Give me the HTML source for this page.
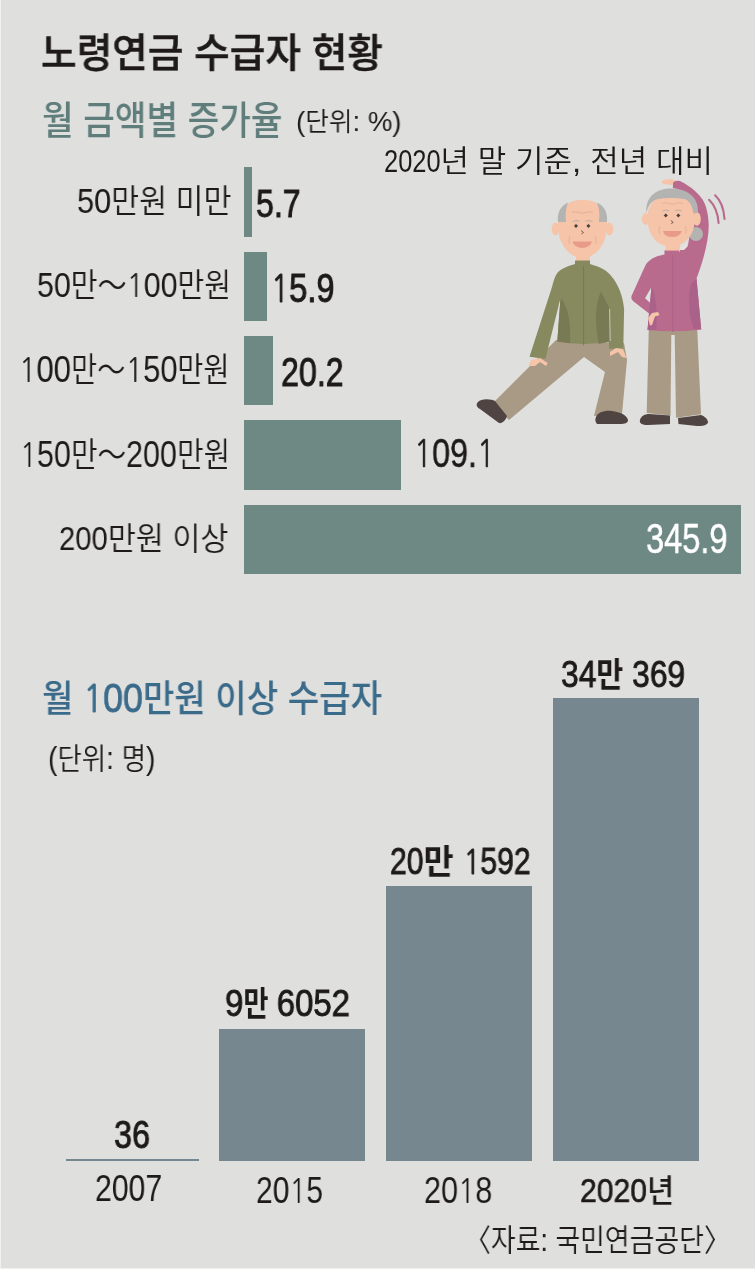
<!DOCTYPE html>
<html lang="ko"><head><meta charset="utf-8"><title>노령연금 수급자 현황</title>
<style>
html,body{margin:0;padding:0}
body{width:755px;height:1269px;background:#dfdfdd;position:relative;overflow:hidden}
.b{position:absolute}
.h{background:#6e8984}
.v{background:#77878f}
.ill{position:absolute;left:470px;top:170px}
.edgeL{position:absolute;left:0;top:0;width:1px;height:1269px;background:#f1f1ef}
.edgeB{position:absolute;left:0;top:1268px;width:755px;height:1px;background:#eeeeec}

.t{position:absolute;font-family:"Liberation Sans","Noto Sans CJK KR",sans-serif;line-height:1;white-space:nowrap;transform-origin:0 0;will-change:transform}
.k{font-family:"Noto Sans CJK KR","Liberation Sans",sans-serif;font-size:0.935em}
.q{display:inline-block;white-space:nowrap;font-family:"Liberation Sans",sans-serif}
.one{font-family:"NanumGothic","Liberation Sans",sans-serif;font-size:0.922em}
.qi{display:inline-block;transform-origin:0 0}
.r{font-weight:350}
.m{font-weight:400;-webkit-text-stroke:0.024em currentColor}
.m .k{font-weight:700;-webkit-text-stroke:0}
.n{font-weight:400;-webkit-text-stroke:0.012em currentColor}
.n .k{font-weight:500;-webkit-text-stroke:0}
.o{font-weight:400;-webkit-text-stroke:0.018em currentColor}
.o .k{font-weight:500;-webkit-text-stroke:0}
.h5{font-weight:500}
.h5s{font-weight:500;-webkit-text-stroke:0.012em currentColor}
.d{font-size:1.07em;-webkit-text-stroke:0.02em currentColor}
</style></head>
<body>
<div class="b h" style="left:244px;top:167px;width:8px;height:70px"></div>
<div class="b h" style="left:244px;top:252px;width:23px;height:69px"></div>
<div class="b h" style="left:244px;top:336px;width:29px;height:69px"></div>
<div class="b h" style="left:244px;top:420px;width:157px;height:70px"></div>
<div class="b h" style="left:244px;top:505px;width:497px;height:69px"></div>
<div class="b v" style="left:219px;top:1029px;width:146px;height:132px"></div>
<div class="b v" style="left:386px;top:886px;width:146px;height:275px"></div>
<div class="b v" style="left:553px;top:698px;width:146px;height:463px"></div>
<div class="b v" style="left:66px;top:1159px;width:133px;height:2px"></div>
<svg class="ill" width="260" height="270" viewBox="470 170 260 270">
<!-- MAN -->
<path fill="#a89a84" d="M556,340 L624,343 L627,360 L622,414 L594,416 L605,372 L584,357 L509,420 L493,403 Z"/>
<path fill="#4f4441" d="M478,402 C481,398 492,399 495,401 L507,416 C506,420 502,424 499,423 L480,409 C476,407 476,404 478,402 Z"/>
<path fill="#4f4441" d="M596,417 C598,412 605,410 612,411 C620,412 627,415 628,420 C628,423 625,424 620,424 L597,424 C595,422 595,419 596,417 Z"/>
<path fill="#878a5f" d="M575,264 C569,266 560,268 556,275 C554,279 553,283 552,287 L529.5,356.7 L545.4,359 L560.5,298 L557.3,341.6 Q583.6,346.5 609.8,341.6 L609,307.4 L609,348.8 L623.3,348.8 L624.1,309 C623,296 618,284 612,277 C607,270 600,267 590,264 Z"/>
<path fill="#787a53" d="M560.5,298 C568,306 571,322 570,343.2 L557.3,341.6 Z"/>
<path fill="#787a53" d="M601,291.6 C596,302 594,318 598.7,344 L609.8,341.6 L609,307.4 Z"/>
<path stroke="#6f724a" stroke-width="0.7" fill="none" d="M583.6,266 L583.6,345.5"/>
<path stroke="#d6d6cf" stroke-width="0.8" fill="none" d="M609.6,309 L610.2,341"/>
<path fill="#f5c4a9" d="M528.5,366 L531,360 L540,358 L547.7,363 L546,366 L540,362 L535,366 Z"/>
<path fill="#f5c4a9" d="M610,352 L616,348 L623,349 L626.5,358 L622,357 L618,352 L610,356 Z"/>
<rect fill="#f5c4a9" x="576" y="250" width="14" height="11"/>
<rect fill="#878a5f" x="575" y="260.5" width="15" height="5.5"/>
<ellipse fill="#f5c4a9" cx="555.5" cy="229" rx="3.8" ry="6.5"/>
<ellipse fill="#f5c4a9" cx="609.5" cy="229" rx="3.8" ry="6.5"/>
<path fill="#f5c4a9" d="M558,225 C558,205 570,200 582.5,200 C595,200 607,205 607,225 C607,245 595,258 582.5,258 C570,258 558,245 558,225 Z"/>
<path fill="#b3b3b1" d="M558,222 C557,212 561,206 568,202.5 C566,208 565,214 566,222 Z"/>
<path fill="#b3b3b1" d="M607,222 C608,212 604,206 597,202.5 C599,208 600,214 599,222 Z"/>
<path fill="#4a3e3b" d="M576.0,223.5 L576.55,225.45 L578.5,226.0 L576.55,226.55 L576.0,228.5 L575.45,226.55 L573.5,226.0 L575.45,225.45 Z"/><circle fill="#4a3e3b" cx="576.0" cy="226.0" r="1.45"/>
<path fill="#4a3e3b" d="M588.4,223.5 L588.95,225.45 L590.9,226.0 L588.95,226.55 L588.4,228.5 L587.85,226.55 L585.9,226.0 L587.85,225.45 Z"/><circle fill="#4a3e3b" cx="588.4" cy="226.0" r="1.45"/>
<path stroke="#5a4540" stroke-width="0.8" fill="none" d="M581,230.5 L583.5,232.5 L581.5,234"/>
<path stroke="#d9a68e" stroke-width="0.7" fill="none" d="M572,212.5 Q576,211 579,212.5 Q582.5,214 586,212.5 Q589.5,211 593,212.5"/>
<path stroke="#b9a9a0" stroke-width="0.9" fill="none" d="M572.5,221.5 Q576,219.8 579.5,221.2 M585.5,221.2 Q589,219.8 592.5,221.5"/>
<path stroke="#d9a68e" stroke-width="0.6" fill="none" d="M570,236 Q568,240 569.5,244 M595,236 Q597,240 595.5,244"/>
<path fill="#e89c87" d="M572.5,241.5 L592,241.5 Q590,248 582.3,248 Q574.5,248 572.5,241.5 Z"/>
<!-- WOMAN -->
<path fill="#a89a84" d="M648.8,328 L697.2,328 L701,414.2 L676,417.7 L674.7,335 L671.3,335 L670.5,415.4 L646.7,413 Z"/>
<path fill="#4f4441" d="M640,420 C641,416 645,414 649,414 L670,415.5 L670,424 L648,425 C642,425 639,423 640,420 Z"/>
<path fill="#4f4441" d="M678,418 L701,415 C704,416 708,419 708,422.5 C707,425.5 702,426 697,426 L678.5,424 Z"/>
<path fill="#f5c4a9" d="M661.3,182.8 C661.8,180 666,179 670,179.2 C674,179.4 677,180.5 677.7,183 L676,185 L670,184.8 C666,184.5 663,184.2 661.3,182.8 Z"/>
<path fill="#b96b8e" d="M664.7,254.6 C655,256 648,260 644.9,266.5 L632.3,294.3 Q630,298 633,301 L651,315 L656,308 L645,298.3 L651.5,287 L647.5,330 Q675,333 701.2,329.4 L696.5,278.4 C703,262 709,240 708.7,225 C708.5,214 706,205 702.7,199.8 C699,194 692,187 680,181 Q674.5,180 673,183 L672.9,188.1 C682,190 690,195 695,203 L688,245 L679.3,250.6 L664.7,250.6 Z"/>
<path fill="#aa628a" d="M691.2,283.7 C688,295 688,315 693.9,328.7 L701.2,329.4 L696.5,278.4 Z"/>
<path fill="#aa628a" d="M651.5,286.4 C656,295 658,315 656.1,330 L647.5,330 Z"/>
<path stroke="#a55d82" stroke-width="0.6" fill="none" d="M672.7,252 L672.7,332"/>
<path fill="#f5c4a9" d="M650,325.5 L648,318 L652,313 L658,312 L659.5,315 L655,316.5 L652,325 Z"/>
<rect fill="#f5c4a9" x="665.8" y="240" width="14.2" height="12"/>
<path fill="#e6e2e0" d="M679,250 L686,243 L688,246 L684,250 Z"/>
<rect fill="#b96b8e" x="664.7" y="250.6" width="14.6" height="4.5"/>
<ellipse fill="#f5c4a9" cx="645.5" cy="219" rx="3.6" ry="6"/>
<ellipse fill="#f5c4a9" cx="697" cy="219" rx="3.8" ry="6.7"/>
<circle fill="#b3b3b1" cx="696" cy="234" r="7"/>
<path fill="#f5c4a9" d="M647.5,218 C647.5,202 658,195 671,195 C684,195 695,202 695,218 C695,236 684,246.5 671,246.5 C658,246.5 647.5,236 647.5,218 Z"/>
<path fill="#b3b3b1" d="M646.5,213 C645,196 657,188.5 671,188.5 C686,188.5 699,196 698,213 L693.5,213 C692,205 689,200 684,199 C678,197.5 664,197.5 658,199 C652,200.5 648,205 646.5,213 Z"/>
<path fill="#4a3e3b" d="M665.8,213.0 L666.35,214.95 L668.3,215.5 L666.35,216.05 L665.8,218.0 L665.25,216.05 L663.3,215.5 L665.25,214.95 Z"/><circle fill="#4a3e3b" cx="665.8" cy="215.5" r="1.45"/>
<path fill="#4a3e3b" d="M678.3,213.0 L678.85,214.95 L680.8,215.5 L678.85,216.05 L678.3,218.0 L677.75,216.05 L675.8,215.5 L677.75,214.95 Z"/><circle fill="#4a3e3b" cx="678.3" cy="215.5" r="1.45"/>
<path stroke="#5a4540" stroke-width="0.8" fill="none" d="M670.8,220.5 L673.2,222.3 L671.2,223.8"/>
<path stroke="#d9a68e" stroke-width="0.6" fill="none" d="M662,203.5 Q666,202 669,203.5 Q672.5,205 676,203.5 Q679.5,202 683,203.5"/>
<path stroke="#b9a9a0" stroke-width="0.9" fill="none" d="M662.3,211 Q665.8,209.3 669.3,210.7 M675,210.7 Q678.5,209.3 682,211"/>
<path stroke="#d9a68e" stroke-width="0.6" fill="none" d="M660,226 Q658,230 659.5,234 M685,226 Q687,230 685.5,234"/>
<path fill="#e89c87" d="M662.8,231 L681.9,231 Q680,237 672.3,237 Q664.5,237 662.8,231 Z"/>
<path stroke="#b96b8e" stroke-width="2.1" fill="none" stroke-linecap="round" d="M709.1,199.8 Q717.5,208 718.6,223"/>
<path stroke="#b96b8e" stroke-width="2.1" fill="none" stroke-linecap="round" d="M715.1,195.3 Q723.5,203 724.5,219"/>
</svg>

<div class="t h5s" style="left:41.38px;top:33.79px;font-size:40.14px;color:#1d1a18;transform:scaleX(0.9645)">노령연금 수급자 현황</div>
<div class="t h5" style="left:42.06px;top:102.21px;font-size:38.58px;color:#5f7d7b;transform:scaleX(0.8907)">월 금액별 증가율</div>
<div class="t r" style="left:295.62px;top:107.04px;font-size:28.54px;color:#1d1a18;transform:scaleX(0.9650)">(<span class="k">단위</span>: %)</div>
<div class="t r" style="left:383.55px;top:144.19px;font-size:32.25px;color:#1d1a18;transform:scaleX(1.0275)"><span class="q q1" style="width:1.7093em"><span class="qi" style="transform:scaleX(0.7683)">2020</span></span><span class="k">년 말 기준</span>, <span class="k">전년 대비</span></div>
<div class="t r" style="left:77.06px;top:182.10px;font-size:35.72px;color:#1d1a18;transform:scaleX(0.9102)"><span class="q q1" style="width:1.0530em"><span class="qi" style="transform:scaleX(0.9466)">50</span></span><span class="k">만원 미만</span></div>
<div class="t r" style="left:36.59px;top:267.20px;font-size:35.45px;color:#1d1a18;transform:scaleX(0.8802)"><span class="q q1" style="width:1.0823em"><span class="qi" style="transform:scaleX(0.9729)">50</span></span><span class="k">만～</span><span class="q" style="width:1.6259em"><span class="qi" style="transform:scaleX(0.9729)"><span class="one">1</span>00</span></span><span class="k">만원</span></div>
<div class="t r" style="left:19.44px;top:351.31px;font-size:36.01px;color:#1d1a18;transform:scaleX(0.8399)"><span class="q q1" style="width:1.7210em"><span class="qi" style="transform:scaleX(1.0298)"><span class="one">1</span>00</span></span><span class="k">만～</span><span class="q" style="width:1.7210em"><span class="qi" style="transform:scaleX(1.0298)"><span class="one">1</span>50</span></span><span class="k">만원</span></div>
<div class="t r" style="left:19.91px;top:435.50px;font-size:36.29px;color:#1d1a18;transform:scaleX(0.8481)"><span class="q q1" style="width:1.6568em"><span class="qi" style="transform:scaleX(0.9914)"><span class="one">1</span>50</span></span><span class="k">만～</span><span class="q" style="width:1.6543em"><span class="qi" style="transform:scaleX(0.9914)">200</span></span><span class="k">만원</span></div>
<div class="t r" style="left:59.45px;top:520.57px;font-size:34.14px;color:#1d1a18;transform:scaleX(0.9565)"><span class="q q1" style="width:1.4904em"><span class="qi" style="transform:scaleX(0.8932)">200</span></span><span class="k">만원 이상</span></div>
<div class="t m" style="left:255.76px;top:184.22px;font-size:39.36px;color:#1d1a18;transform:scaleX(0.8164)"><span class="q q1" style="width:1.3904em"><span class="qi" style="transform:scaleX(1.0000)">5.7</span></span></div>
<div class="t m" style="left:270.56px;top:267.67px;font-size:40.46px;color:#1d1a18;transform:scaleX(0.8070)"><span class="q q1" style="width:1.9492em"><span class="qi" style="transform:scaleX(1.0000)"><span class="one">1</span>5.9</span></span></div>
<div class="t m" style="left:280.58px;top:352.27px;font-size:39.99px;color:#1d1a18;transform:scaleX(0.8048)"><span class="q q1" style="width:1.9466em"><span class="qi" style="transform:scaleX(1.0000)">20.2</span></span></div>
<div class="t n" style="left:413.84px;top:433.43px;font-size:40.08px;color:#1d1a18;transform:scaleX(0.8058)"><span class="q q1" style="width:2.5080em"><span class="qi" style="transform:scaleX(1.0000)"><span class="one">1</span>09.<span class="one">1</span></span></span></div>
<div class="t n" style="left:646.31px;top:516.60px;font-size:42.57px;color:#ffffff;transform:scaleX(0.7657)"><span class="q q1" style="width:2.5028em"><span class="qi" style="transform:scaleX(1.0000)">345.9</span></span></div>
<div class="t h5" style="left:41.85px;top:678.36px;font-size:37.38px;color:#3b6b8b;transform:scaleX(0.9153)">월 <span class="d"><span class="q q1" style="width:1.6343em"><span class="qi" style="transform:scaleX(0.9779)"><span class="one">1</span>00</span></span></span>만원 이상 수급자</div>
<div class="t r" style="left:47.81px;top:742.17px;font-size:31.37px;color:#1d1a18;transform:scaleX(0.9011)">(<span class="k">단위</span>: <span class="k">명</span>)</div>
<div class="t m" style="left:114.46px;top:1114.60px;font-size:39.45px;color:#1d1a18;transform:scaleX(0.8207)"><span class="q q1" style="width:1.1124em"><span class="qi" style="transform:scaleX(1.0000)">36</span></span></div>
<div class="t m" style="left:225.30px;top:984.25px;font-size:36.84px;color:#1d1a18;transform:scaleX(0.7959)"><span class="q q1" style="width:0.6244em"><span class="qi" style="transform:scaleX(1.1227)">9</span></span><span class="k">만</span> <span class="q" style="width:2.4978em"><span class="qi" style="transform:scaleX(1.1227)">6052</span></span></div>
<div class="t m" style="left:390.39px;top:842.43px;font-size:37.09px;color:#1d1a18;transform:scaleX(0.9437)"><span class="q q1" style="width:0.9556em"><span class="qi" style="transform:scaleX(0.8590)">20</span></span><span class="k">만</span> <span class="q" style="width:1.9133em"><span class="qi" style="transform:scaleX(0.8590)"><span class="one">1</span>592</span></span></div>
<div class="t m" style="left:561.34px;top:655.33px;font-size:36.92px;color:#1d1a18;transform:scaleX(0.8460)"><span class="q q1" style="width:1.1324em"><span class="qi" style="transform:scaleX(1.0180)">34</span></span><span class="k">만</span> <span class="q" style="width:1.6986em"><span class="qi" style="transform:scaleX(1.0180)">369</span></span></div>
<div class="t r" style="left:95.07px;top:1170.52px;font-size:36.72px;color:#1d1a18;transform:scaleX(0.8222)"><span class="q q1" style="width:2.2248em"><span class="qi" style="transform:scaleX(1.0000)">2007</span></span></div>
<div class="t r" style="left:256.27px;top:1173.16px;font-size:36.01px;color:#1d1a18;transform:scaleX(0.8352)"><span class="q q1" style="width:2.2274em"><span class="qi" style="transform:scaleX(1.0000)">20<span class="one">1</span>5</span></span></div>
<div class="t r" style="left:423.96px;top:1173.16px;font-size:36.01px;color:#1d1a18;transform:scaleX(0.8510)"><span class="q q1" style="width:2.2274em"><span class="qi" style="transform:scaleX(1.0000)">20<span class="one">1</span>8</span></span></div>
<div class="t o" style="left:579.65px;top:1172.59px;font-size:33.97px;color:#1d1a18;transform:scaleX(0.9306)"><span class="q q1" style="width:2.1213em"><span class="qi" style="transform:scaleX(0.9535)">2020</span></span><span class="k">년</span></div>
<div class="t r" style="left:464.05px;top:1225.23px;font-size:31.01px;color:#1d1a18;transform:scaleX(0.8682)">〈자료: 국민연금공단〉</div>
<div class="edgeL"></div><div class="edgeB"></div>
</body></html>
